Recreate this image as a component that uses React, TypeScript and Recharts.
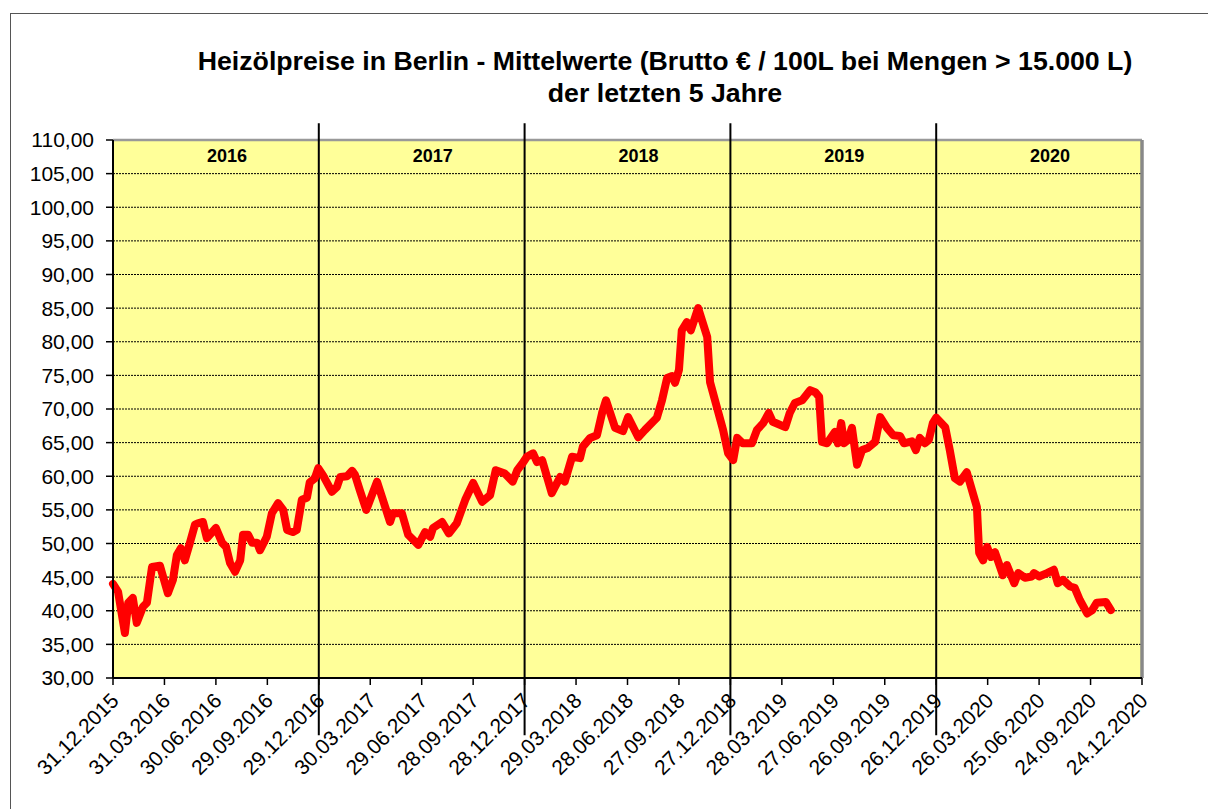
import React from "react";
import {
  LineChart,
  Line,
  XAxis,
  YAxis,
  CartesianGrid,
  ReferenceLine,
  ReferenceArea,
} from "recharts";

// Messpunkte (Datum, Mittelwert in € / 100 L)
const dates = [
  "31.12.2015", "09.01.2016", "21.01.2016", "27.01.2016", "04.02.2016", "11.02.2016",
  "22.02.2016", "29.02.2016", "09.03.2016", "23.03.2016", "06.04.2016", "15.04.2016",
  "22.04.2016", "29.04.2016", "06.05.2016", "15.05.2016", "24.05.2016", "29.05.2016",
  "07.06.2016", "14.06.2016", "30.06.2016", "11.07.2016", "18.07.2016", "25.07.2016",
  "03.08.2016", "12.08.2016", "17.08.2016", "26.08.2016", "02.09.2016", "11.09.2016",
  "16.09.2016", "28.09.2016", "07.10.2016", "18.10.2016", "27.10.2016", "03.11.2016",
  "13.11.2016", "20.11.2016", "29.11.2016", "08.12.2016", "13.12.2016", "22.12.2016",
  "28.12.2016", "05.01.2017", "21.01.2017", "30.01.2017", "05.02.2017", "17.02.2017",
  "26.02.2017", "03.03.2017", "12.03.2017", "23.03.2017", "11.04.2017", "04.05.2017",
  "09.05.2017", "25.05.2017", "05.06.2017", "23.06.2017", "05.07.2017", "14.07.2017",
  "19.07.2017", "04.08.2017", "16.08.2017", "30.08.2017", "14.09.2017", "28.09.2017",
  "14.10.2017", "28.10.2017", "07.11.2017", "23.11.2017", "07.12.2017", "15.12.2017",
  "25.12.2017", "01.01.2018", "12.01.2018", "19.01.2018", "28.01.2018", "14.02.2018",
  "01.03.2018", "09.03.2018", "22.03.2018", "05.04.2018", "10.04.2018", "23.04.2018",
  "05.05.2018", "14.05.2018", "21.05.2018", "06.06.2018", "20.06.2018", "29.06.2018",
  "17.07.2018", "29.07.2018", "12.08.2018", "19.08.2018", "28.08.2018", "06.09.2018",
  "15.09.2018", "20.09.2018", "27.09.2018", "02.10.2018", "11.10.2018", "18.10.2018",
  "31.10.2018", "16.11.2018", "21.11.2018", "03.12.2018", "14.12.2018", "23.12.2018",
  "01.01.2019", "08.01.2019", "18.01.2019", "03.02.2019", "12.02.2019", "23.02.2019",
  "05.03.2019", "12.03.2019", "03.04.2019", "11.04.2019", "20.04.2019", "03.05.2019",
  "17.05.2019", "26.05.2019", "02.06.2019", "07.06.2019", "16.06.2019", "30.06.2019",
  "05.07.2019", "11.07.2019", "16.07.2019", "23.07.2019", "30.07.2019", "08.08.2019",
  "17.08.2019", "27.08.2019", "09.09.2019", "18.09.2019", "30.09.2019", "11.10.2019",
  "23.10.2019", "30.10.2019", "13.11.2019", "20.11.2019", "27.11.2019", "06.12.2019",
  "13.12.2019", "20.12.2019", "26.12.2019", "11.01.2020", "19.01.2020", "28.01.2020",
  "06.02.2020", "18.02.2020", "07.03.2020", "11.03.2020", "18.03.2020", "25.03.2020",
  "01.04.2020", "08.04.2020", "22.04.2020", "29.04.2020", "12.05.2020", "19.05.2020",
  "31.05.2020", "12.06.2020", "16.06.2020", "25.06.2020", "09.07.2020", "21.07.2020",
  "28.07.2020", "06.08.2020", "19.08.2020", "27.08.2020", "05.09.2020", "18.09.2020",
  "27.09.2020", "05.10.2020", "21.10.2020", "30.10.2020",
];

const prices = [
  44.0, 42.8, 36.7, 41.2, 41.9, 38.2,
  40.6, 41.2, 46.5, 46.7, 42.6, 44.6,
  48.3, 49.3, 47.5, 50.1, 52.8, 53.0,
  53.2, 50.8, 52.3, 50.1, 49.5, 47.1,
  45.8, 47.5, 51.3, 51.3, 50.1, 50.1,
  49.0, 51.0, 54.5, 56.0, 55.0, 52.0,
  51.7, 52.0, 56.5, 56.8, 59.1, 59.7,
  61.2, 60.2, 57.7, 58.4, 59.9, 60.0,
  60.8, 60.2, 57.8, 55.0, 59.2, 53.2,
  54.5, 54.5, 51.3, 49.8, 51.7, 51.0,
  52.3, 53.2, 51.5, 53.0, 56.5, 59.0,
  56.2, 57.2, 60.9, 60.4, 59.2, 60.9,
  62.0, 62.9, 63.4, 62.1, 62.4, 57.5,
  59.9, 59.2, 62.9, 62.7, 64.4, 65.7,
  66.1, 69.4, 71.3, 67.2, 66.7, 68.8,
  65.8, 66.9, 68.1, 68.7, 71.3, 74.6,
  74.9, 73.9, 75.8, 81.7, 82.9, 81.7,
  85.0, 80.7, 74.0, 70.3, 66.9, 63.4,
  62.4, 65.7, 64.9, 64.9, 66.9, 67.9,
  69.4, 68.1, 67.3, 69.4, 70.9, 71.3,
  72.8, 72.5, 71.8, 65.1, 64.9, 66.6,
  64.9, 67.9, 64.9, 65.4, 67.2, 61.7,
  63.9, 64.2, 65.1, 68.8, 67.2, 66.1,
  66.0, 64.9, 65.2, 63.9, 65.7, 64.9,
  65.4, 67.9, 68.7, 67.3, 63.9, 59.7,
  59.2, 60.6, 55.4, 48.6, 47.5, 49.5,
  48.0, 48.7, 45.3, 46.8, 44.1, 45.6,
  44.9, 45.1, 45.6, 45.1, 45.6, 46.1,
  44.1, 44.6, 43.6, 43.4, 41.6, 39.6,
  40.1, 41.2, 41.3, 40.1,
];

const tickDates = [
  "31.12.2015", "31.03.2016", "30.06.2016", "29.09.2016", "29.12.2016",
  "30.03.2017", "29.06.2017", "28.09.2017", "28.12.2017", "29.03.2018",
  "28.06.2018", "27.09.2018", "27.12.2018", "28.03.2019", "27.06.2019",
  "26.09.2019", "26.12.2019", "26.03.2020", "25.06.2020", "24.09.2020",
  "24.12.2020",
];

const yearBounds = [
  "31.12.2015", "29.12.2016", "28.12.2017", "27.12.2018", "26.12.2019", "24.12.2020",
];
const yearLabels = ["2016", "2017", "2018", "2019", "2020"];

const yTicks = [30, 35, 40, 45, 50, 55, 60, 65, 70, 75, 80, 85, 90, 95, 100, 105, 110];

const FONT = "'Liberation Sans', Arial, sans-serif";

const toDay = (s: string) => {
  const [d, m, y] = s.split(".").map(Number);
  return Math.round((Date.UTC(y, m - 1, d) - Date.UTC(2015, 11, 31)) / 86400000);
};

const data = dates.map((d, i) => ({ t: toDay(d), price: prices[i] }));
const tickValues = tickDates.map(toDay);
const tickLabel: Record<number, string> = {};
tickDates.forEach((d) => (tickLabel[toDay(d)] = d));

const XTick = (props: any) => {
  const { x, y, payload } = props;
  return (
    <g transform={`translate(${x + 7},${y + 17})`}>
      <text
        x={0}
        y={0}
        textAnchor="end"
        transform="rotate(-45)"
        fontSize={21}
        fontFamily={FONT}
        fill="#000"
      >
        {tickLabel[payload.value]}
      </text>
    </g>
  );
};

const YearLabel = (label: string) => (props: any) => {
  const vb = props.viewBox;
  if (!vb) return null;
  return (
    <text
      x={vb.x + vb.width / 2 + 11}
      y={vb.y + 22}
      textAnchor="middle"
      fontSize={18}
      fontWeight="bold"
      fontFamily={FONT}
      fill="#000"
    >
      {label}
    </text>
  );
};

const App: React.FC = () => {
  return (
    <div>
      <div
        style={{
          position: "absolute",
          left: 10,
          top: 13,
          width: 1197,
          height: 795,
          borderLeft: "1px solid #555",
          borderTop: "1px solid #555",
          background: "#fff",
        }}
      >
        <LineChart
          width={1197}
          height={795}
          data={data}
          margin={{ top: 126, right: 66, left: 0, bottom: 31 }}
        >
          <CartesianGrid
            vertical={false}
            stroke="#000"
            strokeDasharray="2 1"
            fill="#FFFF99"
            fillOpacity={1}
          />
          <XAxis
            dataKey="t"
            type="number"
            domain={[0, 1820]}
            ticks={tickValues}
            interval={0}
            height={100}
            tickSize={7}
            tickMargin={0}
            tick={<XTick />}
            axisLine={{ stroke: "#000", strokeWidth: 2 }}
            tickLine={{ stroke: "#000", strokeWidth: 1.5 }}
          />
          <YAxis
            type="number"
            domain={[30, 110]}
            ticks={yTicks}
            interval={0}
            width={102}
            tickSize={7}
            tickMargin={12}
            tickFormatter={(v: number) => v.toFixed(2).replace(".", ",")}
            tick={{ fill: "#000", fontSize: 21, fontFamily: FONT }}
            axisLine={{ stroke: "#000", strokeWidth: 2 }}
            tickLine={{ stroke: "#000", strokeWidth: 1.5 }}
          />
          <ReferenceLine y={110} stroke="#999" strokeWidth={2.5} />
          <ReferenceLine x={1820} stroke="#888" strokeWidth={3.5} />
          {yearLabels.map((yl, i) => (
            <ReferenceArea
              key={yl}
              x1={toDay(yearBounds[i])}
              x2={toDay(yearBounds[i + 1])}
              y1={30}
              y2={110}
              fill="none"
              fillOpacity={0}
              stroke="none"
              label={YearLabel(yl)}
            />
          ))}
          {yearBounds.slice(1, 5).map((b) => (
            <ReferenceLine
              key={b}
              segment={[
                { x: toDay(b), y: 112.5 },
                { x: toDay(b), y: 21.5 },
              ]}
              ifOverflow="visible"
              stroke="#000"
              strokeWidth={2}
            />
          ))}
          <Line
            type="linear"
            dataKey="price"
            stroke="#FF0000"
            strokeWidth={8}
            strokeLinejoin="round"
            strokeLinecap="round"
            dot={false}
            activeDot={false}
            isAnimationActive={false}
          />
        </LineChart>
      </div>
      <div
        style={{
          position: "absolute",
          left: 65,
          top: 45,
          width: 1200,
          textAlign: "center",
          fontFamily: FONT,
          fontWeight: "bold",
          fontSize: 26.7,
          lineHeight: "32px",
          color: "#000",
        }}
      >
        Heizölpreise in Berlin - Mittelwerte (Brutto € / 100L bei Mengen &gt; 15.000 L)
        <br />
        der letzten 5 Jahre
      </div>
    </div>
  );
};

export default App;
